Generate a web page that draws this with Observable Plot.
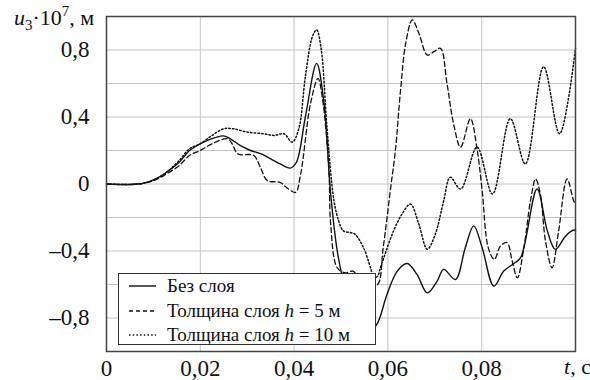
<!DOCTYPE html>
<html><head><meta charset="utf-8">
<script src="https://cdn.jsdelivr.net/npm/d3@7"></script>
<script src="https://cdn.jsdelivr.net/npm/@observablehq/plot@0.6"></script>
<style>body{margin:0}</style>
</head><body>
<div id="wrap" style="position:relative;width:590px;height:380px;color:#111;font-family:'Liberation Serif';">
<div id="ylab" style="position:absolute;left:14px;top:5px;font-size:22px;white-space:nowrap;z-index:2;font-family:'Liberation Serif';"><i style="font-family:'Liberation Serif';">u</i><sub style="font-family:'Liberation Serif';font-size:15px;vertical-align:-5px;line-height:0;">3</sub>·10<sup style="font-family:'Liberation Serif';font-size:15px;vertical-align:9px;line-height:0;">7</sup>, м</div>
<div id="xlab" style="position:absolute;left:564px;top:354px;font-size:22px;white-space:nowrap;z-index:2;font-family:'Liberation Serif';"><i style="font-family:'Liberation Serif';">t</i>, с</div>
</div>
<script>
// Series: Без слоя (solid)
const tSolid=[0,0.005,0.008,0.0105,0.0128,0.0155,0.0177,0.0207,0.0235,0.025,0.0264,0.0285,0.0307,0.033,0.035,0.037,0.0392,0.0405,0.0424,0.0448,0.0463,0.0478,0.0492,0.0505,0.052,0.054,0.0562,0.0578,0.0598,0.062,0.0641,0.0662,0.0684,0.0705,0.0719,0.0744,0.0765,0.0783,0.0801,0.0826,0.0847,0.0868,0.0883,0.0918,0.094,0.0957,0.0979,0.0996,0.1];
const vSolid=[0,-0.003,0.005,0.03,0.07,0.13,0.2,0.25,0.28,0.287,0.27,0.23,0.2,0.18,0.15,0.12,0.095,0.13,0.4,0.72,0.5,-0.06,-0.4,-0.58,-0.72,-0.83,-0.88,-0.83,-0.66,-0.52,-0.475,-0.54,-0.65,-0.58,-0.51,-0.57,-0.38,-0.25,-0.38,-0.61,-0.52,-0.476,-0.44,-0.03,-0.28,-0.39,-0.31,-0.275,-0.28];
// Series: Толщина слоя h = 5 м (dashed)
const tDash=[0,0.005,0.008,0.0105,0.0128,0.0155,0.0177,0.02,0.0225,0.0258,0.0268,0.028,0.0314,0.0328,0.0343,0.037,0.0388,0.0403,0.0414,0.0435,0.0451,0.046,0.0474,0.0478,0.0492,0.051,0.0525,0.054,0.0563,0.0578,0.059,0.0606,0.0616,0.0627,0.0638,0.0652,0.0666,0.0684,0.0698,0.0712,0.0726,0.074,0.0755,0.0776,0.079,0.0801,0.0814,0.0827,0.084,0.0854,0.0865,0.0876,0.089,0.0904,0.0915,0.0925,0.0936,0.095,0.0964,0.0982,0.0996,0.1];
const vDash=[0,-0.003,0.005,0.025,0.06,0.11,0.17,0.2,0.24,0.27,0.24,0.18,0.17,0.1,0.02,0.01,-0.03,-0.05,0.06,0.48,0.63,0.52,0.1,-0.24,-0.5,-0.53,-0.52,-0.56,-0.6,-0.6,-0.38,-0.02,0.2,0.56,0.84,0.98,0.9,0.77,0.79,0.81,0.6,0.36,0.22,0.39,0.21,-0.04,-0.38,-0.45,-0.37,-0.35,-0.46,-0.56,-0.38,-0.1,0.03,-0.06,-0.34,-0.5,-0.28,0.03,-0.1,-0.12];
// Series: Толщина слоя h = 10 м (dotted)
const tDot=[0,0.005,0.008,0.0105,0.0128,0.0155,0.0177,0.02,0.0225,0.025,0.027,0.03,0.0335,0.0357,0.0378,0.0396,0.041,0.0424,0.0439,0.0448,0.0458,0.047,0.0485,0.0495,0.0505,0.052,0.053,0.0548,0.0563,0.057,0.0578,0.0584,0.0595,0.0612,0.063,0.0648,0.0666,0.0684,0.0701,0.0719,0.0733,0.0755,0.079,0.0823,0.0861,0.0893,0.0932,0.0966,0.1];
const vDot=[0,-0.003,0.005,0.03,0.07,0.14,0.21,0.24,0.29,0.33,0.33,0.31,0.3,0.29,0.3,0.25,0.33,0.64,0.88,0.92,0.8,0.34,-0.1,-0.22,-0.28,-0.29,-0.3,-0.38,-0.5,-0.56,-0.55,-0.5,-0.41,-0.28,-0.18,-0.12,-0.24,-0.39,-0.3,-0.1,0.04,-0.03,0.22,-0.06,0.39,0.12,0.7,0.3,0.81];

const seriesNames=["Без слоя","Толщина слоя h = 5 м","Толщина слоя h = 10 м"];
const xTicks=[0,0.02,0.04,0.06,0.08];
const yTicks=[-0.8,-0.4,0,0.4,0.8];
const xGrid=[0.02,0.04,0.06,0.08];
const yGrid=[-0.8,-0.6,-0.4,-0.2,0,0.2,0.4,0.6,0.8];

const FONT="Liberation Serif";
// make sure the serif face is resolved before drawing
document.fonts.check("22px 'Liberation Serif'");
document.fonts.check("italic 22px 'Liberation Serif'");
getComputedStyle(document.getElementById("ylab")).fontFamily;
document.body.offsetHeight;

const toRows=(ts,vs)=>ts.map((t,i)=>({t,v:vs[i]}));
const solid=toRows(tSolid,vSolid), dashed=toRows(tDash,vDash), dotted=toRows(tDot,vDot);
const fmt=(d,dec)=>d===0?"0":(d<0?"\u2013":"")+Math.abs(d).toFixed(dec).replace(".",",");

const chart=Plot.plot({
  width:590,height:380,
  marginLeft:106,marginRight:15,marginTop:16,marginBottom:29,
  style:{fontFamily:FONT,background:"#fff",color:"#111"},
  x:{domain:[0,0.1]},
  y:{domain:[-1,1]},
  marks:[
    Plot.gridX(xGrid,{stroke:"#c4c4c4",strokeOpacity:1,strokeWidth:1}),
    Plot.gridY(yGrid,{stroke:"#c4c4c4",strokeOpacity:1,strokeWidth:1}),
    Plot.axisY(yTicks,{tickSize:0,tickPadding:17,tickFormat:d=>fmt(d,1),fontSize:23,fontFamily:FONT,label:null}),
    Plot.axisX(xTicks,{tickSize:0,tickPadding:8,tickFormat:d=>fmt(d,2),fontSize:23,fontFamily:FONT,label:null}),
    Plot.line(dotted,{x:"t",y:"v",stroke:"#111",strokeWidth:1.5,strokeDasharray:"1.5,2.2",curve:"catmull-rom"}),
    Plot.line(dashed,{x:"t",y:"v",stroke:"#111",strokeWidth:1.3,strokeDasharray:"5,3",curve:"catmull-rom"}),
    Plot.line(solid,{x:"t",y:"v",stroke:"#111",strokeWidth:1.4,curve:"catmull-rom"}),
    Plot.frame({stroke:"#444",strokeWidth:1.5})
  ]
});
const wrap=document.getElementById("wrap");
wrap.insertBefore(chart,wrap.firstChild);

const dashes=["none","4,3","1.5,2.2"];
const legend=document.createElement("div");
legend.setAttribute("style","position:absolute;left:118px;top:273px;width:256px;height:70px;border:1.5px solid #333;background:#fff;z-index:2;font-family:'Liberation Serif';font-size:19px;");
seriesNames.forEach((name,i)=>{
  const row=document.createElement("div");
  row.setAttribute("style",`position:absolute;left:10px;top:${i*24.5}px;height:24px;display:flex;align-items:center;white-space:nowrap;font-family:'Liberation Serif';font-size:19px;`);
  const label=name.replace(/ h /," <i style=\"font-family:'Liberation Serif';\">h</i> ");
  row.innerHTML=`<svg width="27" height="10" style="margin-right:11px"><line x1="0" y1="5" x2="27" y2="5" stroke="#111" stroke-width="1.4" stroke-dasharray="${dashes[i]}"/></svg><span style="font-family:'Liberation Serif';font-size:19px;">${label}</span>`;
  legend.appendChild(row);
});
wrap.appendChild(legend);
document.fonts.check("19px 'Liberation Serif'");
document.body.offsetHeight;
</script>
</body></html>
